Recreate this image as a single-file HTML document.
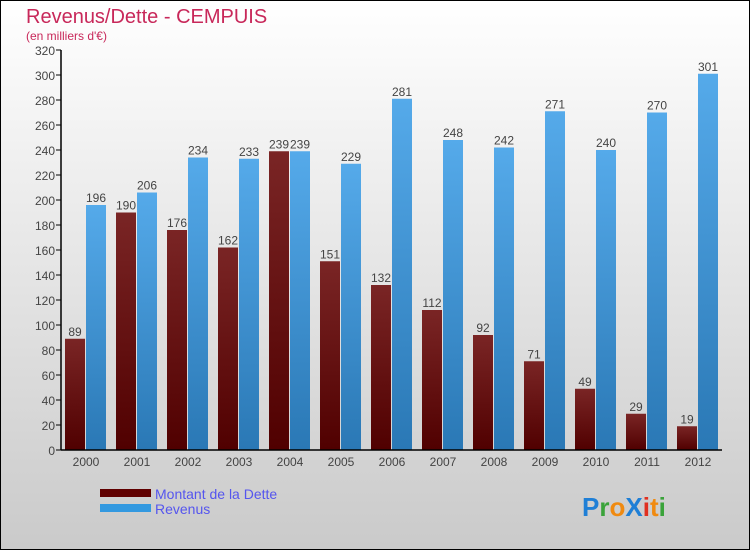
<!DOCTYPE html>
<html><head><meta charset="utf-8"><style>
html,body{margin:0;padding:0}
body{width:750px;height:550px;overflow:hidden;font-family:"Liberation Sans",sans-serif}
</style></head><body>
<svg id="chart" width="750" height="550" xmlns="http://www.w3.org/2000/svg">
<defs>
<linearGradient id="bg" x1="0" y1="0" x2="0" y2="1"><stop offset="0" stop-color="#ffffff"/><stop offset="1" stop-color="#cacaca"/></linearGradient>
<linearGradient id="gd" x1="0" y1="0" x2="0" y2="1"><stop offset="0" stop-color="#7a2525"/><stop offset="1" stop-color="#500000"/></linearGradient>
<linearGradient id="gr" x1="0" y1="0" x2="0" y2="1"><stop offset="0" stop-color="#55aaea"/><stop offset="1" stop-color="#2a78b5"/></linearGradient>
</defs>
<rect x="0.5" y="0.5" width="749" height="549" fill="url(#bg)" stroke="#000"/>
<text x="26" y="23" font-size="20" fill="#c8285a">Revenus/Dette - CEMPUIS</text>
<text x="26" y="40" font-size="12" fill="#c8285a">(en milliers d'€)</text>
<g id="plot"></g>
<rect x="100" y="489" width="51" height="8" fill="#600000"/>
<text x="155" y="499" font-size="14" fill="#5555ee">Montant de la Dette</text>
<rect x="100" y="504" width="51" height="8" fill="#3399e0"/>
<text x="155" y="514" font-size="14" fill="#5555ee">Revenus</text>
<g font-size="26" font-weight="bold" font-family="Liberation Sans, sans-serif">
<text x="582" y="516"><tspan fill="#1f7fd6">P</tspan><tspan fill="#3aa33a">r</tspan><tspan fill="#f08a10">o</tspan><tspan fill="#1f7fd6">X</tspan><tspan fill="#e03020">i</tspan><tspan fill="#f08a10">t</tspan><tspan fill="#3aa33a">i</tspan></text>
</g>
</svg>
<script>
const years=["2000","2001","2002","2003","2004","2005","2006","2007","2008","2009","2010","2011","2012"];
const dette=[89,190,176,162,239,151,132,112,92,71,49,29,19];
const revenus=[196,206,234,233,239,229,281,248,242,271,240,270,301];
const yTicks=[0,20,40,60,80,100,120,140,160,180,200,220,240,260,280,300,320];
const NS="http://www.w3.org/2000/svg";
const g=document.getElementById('plot');
const y=v=>450-v*1.25;
const x0=i=>61+i*51;
function mk(t,a,txt){const e=document.createElementNS(NS,t);for(const k in a)e.setAttribute(k,a[k]);if(txt!=null)e.textContent=txt;g.appendChild(e);return e;}
yTicks.forEach(v=>{
 const l=mk('line',{x1:56,x2:61,y1:y(v),y2:y(v),stroke:'#000'});
 
 
 const t=mk('text',{x:55,y:y(v)+5,'text-anchor':'end','font-size':12,fill:'#444'},v);
 
 
});
years.forEach((yr,i)=>{
 const b=x0(i);
 const r1=mk('rect',{x:b+4,y:y(dette[i]),width:20,height:dette[i]*1.25,fill:'url(#gd)'});
 
 
 const r2=mk('rect',{x:b+25,y:y(revenus[i]),width:20,height:revenus[i]*1.25,fill:'url(#gr)'});
 
 
 const t1=mk('text',{x:b+14,y:y(dette[i])-3,'text-anchor':'middle','font-size':12,fill:'#444'},dette[i]);
 
 
 const t2=mk('text',{x:b+35,y:y(revenus[i])-3,'text-anchor':'middle','font-size':12,fill:'#444'},revenus[i]);
 
 
 const xl=mk('text',{x:b+25,y:466,'text-anchor':'middle','font-size':12,fill:'#444'},yr);
 
 
});
const ax=mk('line',{x1:61,x2:61,y1:y(320),y2:450,stroke:'#000','stroke-width':1.5});


const xa=mk('line',{x1:61,x2:722,y1:450,y2:450,stroke:'#000','stroke-width':1.5});


</script>
</body></html>
